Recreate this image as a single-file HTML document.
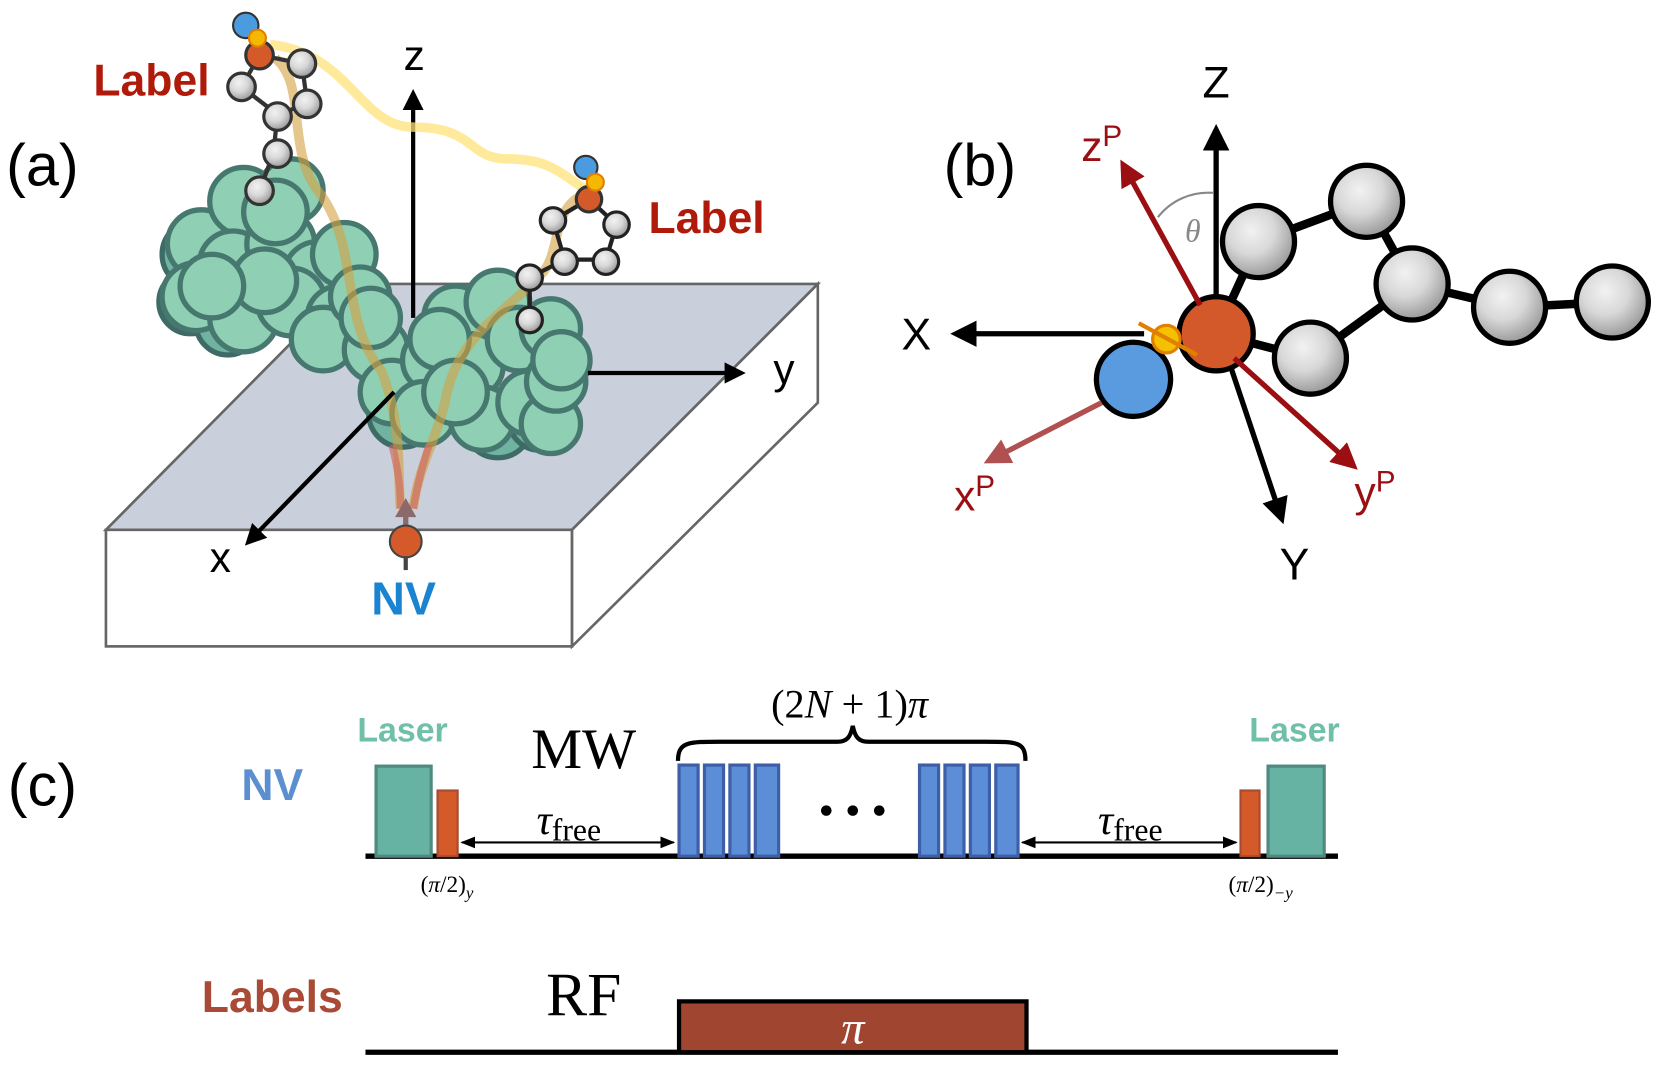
<!DOCTYPE html>
<html><head><meta charset="utf-8"><style>html,body{margin:0;padding:0;background:#fff}svg{display:block}</style></head>
<body>
<svg width="1660" height="1066" viewBox="0 0 1567 1006" preserveAspectRatio="none" xmlns="http://www.w3.org/2000/svg">
<defs>
<marker id="ab" viewBox="0 0 10 10" refX="8" refY="5" markerWidth="5" markerHeight="5" orient="auto-start-reverse"><path d="M0,0L10,5L0,10z" fill="#000"/></marker>
<marker id="as" viewBox="0 0 10 10" refX="9" refY="5" markerWidth="7" markerHeight="7" orient="auto-start-reverse"><path d="M0,1L10,5L0,9z" fill="#000"/></marker>
<marker id="ar" viewBox="0 0 10 10" refX="8" refY="5" markerWidth="5" markerHeight="5" orient="auto"><path d="M0,0L10,5L0,10z" fill="#9b0f12"/></marker>
<marker id="ar2" viewBox="0 0 10 10" refX="8" refY="5" markerWidth="5" markerHeight="5" orient="auto"><path d="M0,0L10,5L0,10z" fill="#b05050"/></marker>
<radialGradient id="gg" cx="0.4" cy="0.35" r="0.65"><stop offset="0" stop-color="#f2f2f2"/><stop offset="0.5" stop-color="#d8d8d8"/><stop offset="1" stop-color="#9a9a9a"/></radialGradient>
</defs>
<g font-family="Liberation Sans, sans-serif">
<polygon points="100,500 330,268 772,268 540,500" fill="#c9d0db" stroke="#666" stroke-width="2.5"/>
<rect x="100" y="500" width="440" height="110" fill="#fff" stroke="#666" stroke-width="2.5"/>
<polygon points="540,500 772,268 772,380 540,610" fill="#fff" stroke="#666" stroke-width="2.5"/>
<line x1="390" y1="300" x2="390" y2="88" stroke="#000" stroke-width="4" marker-end="url(#ab)"/>
<text x="391" y="66" font-size="40" text-anchor="middle">z</text>
<g fill="#6fb3a0" stroke="#3f6b66" stroke-width="5">
<circle cx="185" cy="240" r="32"/><circle cx="180" cy="285" r="30"/><circle cx="215" cy="305" r="30"/><circle cx="380" cy="390" r="32"/><circle cx="470" cy="400" r="32"/><circle cx="510" cy="395" r="30"/>
</g>
<g fill="#8fcfb4" stroke="#46786f" stroke-width="5">
<circle cx="190" cy="230" r="32"/><circle cx="185" cy="280" r="32"/><circle cx="230" cy="190" r="32"/><circle cx="275" cy="180" r="30"/>
<circle cx="220" cy="250" r="32"/><circle cx="265" cy="230" r="32"/><circle cx="300" cy="260" r="32"/><circle cx="230" cy="300" r="32"/>
<circle cx="275" cy="285" r="32"/><circle cx="325" cy="240" r="30"/><circle cx="320" cy="300" r="30"/><circle cx="305" cy="320" r="30"/>
<circle cx="355" cy="330" r="30"/><circle cx="370" cy="370" r="30"/><circle cx="410" cy="340" r="30"/><circle cx="400" cy="390" r="30"/>
<circle cx="430" cy="300" r="30"/><circle cx="470" cy="285" r="30"/><circle cx="445" cy="345" r="30"/><circle cx="490" cy="320" r="30"/>
<circle cx="520" cy="310" r="28"/><circle cx="455" cy="395" r="30"/><circle cx="500" cy="380" r="30"/><circle cx="520" cy="400" r="28"/>
<circle cx="525" cy="360" r="28"/><circle cx="250" cy="265" r="30"/><circle cx="340" cy="280" r="28"/><circle cx="415" cy="320" r="28"/>
<circle cx="260" cy="200" r="30"/><circle cx="200" cy="270" r="30"/><circle cx="350" cy="300" r="28"/><circle cx="430" cy="370" r="30"/><circle cx="530" cy="340" r="27"/>
</g>
<path d="M255,42 C330,50 340,120 390,120 C450,120 440,150 480,150 C520,150 530,165 552,178" fill="none" stroke="#ffe37a" stroke-width="9" opacity="0.75"/>
<path d="M260,55 C290,80 270,140 300,180 C340,230 320,300 360,350 C380,400 375,440 378,480" fill="none" stroke="#d4a040" stroke-width="9" opacity="0.6"/>
<path d="M548,185 C520,200 530,240 510,260 C470,300 430,320 420,380 C410,420 395,440 390,480" fill="none" stroke="#d4a040" stroke-width="9" opacity="0.6"/>
<path d="M370,420 C378,450 378,470 378,480 M405,420 C395,450 392,470 390,480" fill="none" stroke="#d0605a" stroke-width="7" opacity="0.6"/>
<line x1="555" y1="352" x2="700" y2="352" stroke="#000" stroke-width="4" marker-end="url(#ab)"/>
<text x="740" y="362" font-size="40" text-anchor="middle">y</text>
<line x1="372" y1="370" x2="234" y2="512" stroke="#000" stroke-width="4" marker-end="url(#ab)"/>
<text x="208" y="540" font-size="40" text-anchor="middle">x</text>
<g stroke="#333" stroke-width="4" fill="none"><path d="M245,52 L285,60 L290,98 L262,108 L228,82 Z M262,108 L258,145 L245,180"/></g>
<g fill="url(#gg)" stroke="#333" stroke-width="3">
<circle cx="285" cy="60" r="13"/><circle cx="290" cy="98" r="13"/><circle cx="228" cy="82" r="13"/><circle cx="262" cy="110" r="13"/><circle cx="262" cy="145" r="13"/><circle cx="245" cy="180" r="13"/></g>
<circle cx="232" cy="24" r="12" fill="#4a9be0" stroke="#333" stroke-width="2"/>
<circle cx="245" cy="52" r="13" fill="#d45a2a" stroke="#333" stroke-width="3"/>
<circle cx="243" cy="36" r="8" fill="#f5b800" stroke="#e08000" stroke-width="2"/>
<g stroke="#222" stroke-width="4" fill="none"><path d="M556,188 L522,208 L533,245 L572,245 L582,212 Z M533,245 L500,262 L500,300"/></g>
<g fill="url(#gg)" stroke="#222" stroke-width="3">
<circle cx="522" cy="208" r="12"/><circle cx="582" cy="212" r="12"/><circle cx="533" cy="247" r="12"/><circle cx="572" cy="247" r="12"/><circle cx="500" cy="262" r="12"/><circle cx="500" cy="302" r="12"/></g>
<circle cx="553" cy="158" r="11" fill="#4a9be0" stroke="#333" stroke-width="2"/>
<circle cx="556" cy="188" r="12" fill="#d45a2a" stroke="#333" stroke-width="3"/>
<circle cx="562" cy="172" r="8" fill="#f5b800" stroke="#e08000" stroke-width="2"/>
<line x1="383" y1="510" x2="383" y2="482" stroke="#8a6a6a" stroke-width="5"/><path d="M373,488 L383,470 L393,488z" fill="#8a6a6a"/>
<circle cx="383" cy="511" r="15" fill="#d45a2a" stroke="#444" stroke-width="2"/>
<line x1="383" y1="525" x2="383" y2="538" stroke="#444" stroke-width="4"/>
<text x="381" y="580" font-size="44" font-weight="bold" fill="#1a84d0" text-anchor="middle">NV</text>
<text x="143" y="90" font-size="42" font-weight="bold" fill="#b01a0a" text-anchor="middle">Label</text>
<text x="667" y="220" font-size="42" font-weight="bold" fill="#b01a0a" text-anchor="middle">Label</text>
<text x="40" y="175" font-size="56" text-anchor="middle">(a)</text>
<text x="925" y="175" font-size="56" text-anchor="middle">(b)</text>
<text x="40" y="760" font-size="56" text-anchor="middle">(c)</text>
<line x1="1148" y1="295" x2="1148" y2="122" stroke="#000" stroke-width="5" marker-end="url(#ab)"/>
<text x="1148" y="92" font-size="42" text-anchor="middle">Z</text>
<path d="M1093,205 A60,60 0 0 1 1145,182" fill="none" stroke="#888" stroke-width="2"/>
<text x="1126" y="228" font-size="30" font-style="italic" fill="#888" text-anchor="middle" font-family="Liberation Serif, serif">θ</text>
<g stroke="#000" stroke-width="8"><line x1="1148" y1="315" x2="1188" y2="228"/><line x1="1188" y1="228" x2="1290" y2="190"/><line x1="1290" y1="190" x2="1333" y2="268"/><line x1="1333" y1="268" x2="1237" y2="338"/><line x1="1148" y1="315" x2="1237" y2="338"/><line x1="1333" y1="268" x2="1425" y2="290"/><line x1="1425" y1="290" x2="1522" y2="285"/></g>
<g fill="url(#gg)" stroke="#000" stroke-width="5">
<circle cx="1188" cy="228" r="34"/><circle cx="1290" cy="190" r="34"/><circle cx="1333" cy="268" r="34"/><circle cx="1237" cy="338" r="34"/><circle cx="1425" cy="290" r="34"/><circle cx="1522" cy="285" r="34"/></g>
<line x1="1080" y1="315" x2="902" y2="315" stroke="#000" stroke-width="5" marker-end="url(#ab)"/>
<text x="865" y="330" font-size="42" text-anchor="middle">X</text>
<line x1="1158" y1="335" x2="1210" y2="490" stroke="#000" stroke-width="5" marker-end="url(#ab)"/>
<text x="1222" y="547" font-size="42" text-anchor="middle">Y</text>
<circle cx="1070" cy="358" r="35" fill="#5a9be0" stroke="#000" stroke-width="5"/>
<circle cx="1148" cy="315" r="35" fill="#d4592a" stroke="#000" stroke-width="5"/>
<line x1="1133" y1="288" x2="1060" y2="155" stroke="#9b0f12" stroke-width="5" marker-end="url(#ar)"/>
<line x1="1165" y1="338" x2="1278" y2="440" stroke="#9b0f12" stroke-width="5" marker-end="url(#ar)"/>
<line x1="1040" y1="380" x2="933" y2="435" stroke="#b05050" stroke-width="5" marker-end="url(#ar2)"/>
<circle cx="1101" cy="320" r="13" fill="#f5c000" stroke="#e08000" stroke-width="3"/>
<path d="M1075,305 L1130,335" stroke="#e08000" stroke-width="4"/>
<text x="1040" y="152" font-size="40" fill="#9b0f12" text-anchor="middle">z<tspan font-size="28" dy="-14">P</tspan></text>
<text x="1298" y="478" font-size="40" fill="#9b0f12" text-anchor="middle">y<tspan font-size="28" dy="-14">P</tspan></text>
<text x="920" y="482" font-size="40" fill="#9b0f12" text-anchor="middle">x<tspan font-size="28" dy="-14">P</tspan></text>
<line x1="345" y1="808" x2="1263" y2="808" stroke="#000" stroke-width="5"/>
<rect x="355" y="723" width="52" height="85" fill="#67b3a3" stroke="#4f8a80" stroke-width="3"/>
<rect x="413" y="746" width="19" height="62" fill="#d45a2a" stroke="#a84a30" stroke-width="2"/>
<rect x="1171" y="746" width="18" height="62" fill="#d45a2a" stroke="#a84a30" stroke-width="2"/>
<rect x="1197" y="723" width="53" height="85" fill="#67b3a3" stroke="#4f8a80" stroke-width="3"/>
<g fill="#5b8ed6" stroke="#3f5ea8" stroke-width="3">
<rect x="641" y="722" width="18" height="86"/><rect x="665" y="722" width="18" height="86"/><rect x="689" y="722" width="18" height="86"/><rect x="713" y="722" width="22" height="86"/>
<rect x="868" y="722" width="18" height="86"/><rect x="892" y="722" width="18" height="86"/><rect x="916" y="722" width="18" height="86"/><rect x="940" y="722" width="21" height="86"/></g>
<circle cx="780" cy="765" r="5"/><circle cx="805" cy="765" r="5"/><circle cx="830" cy="765" r="5"/>
<line x1="436" y1="795" x2="636" y2="795" stroke="#000" stroke-width="2" marker-start="url(#as)" marker-end="url(#as)"/>
<line x1="965" y1="795" x2="1167" y2="795" stroke="#000" stroke-width="2" marker-start="url(#as)" marker-end="url(#as)"/>
<g font-family="Liberation Serif, serif">
<text x="537" y="787" font-size="40" text-anchor="middle"><tspan font-style="italic">τ</tspan><tspan font-size="30" dy="6">free</tspan></text>
<text x="1067" y="787" font-size="40" text-anchor="middle"><tspan font-style="italic">τ</tspan><tspan font-size="30" dy="6">free</tspan></text>
<text x="551" y="725" font-size="54" text-anchor="middle">MW</text>
<text x="802" y="677" font-size="38" text-anchor="middle">(2<tspan font-style="italic">N</tspan> + 1)<tspan font-style="italic">π</tspan></text>
<text x="422" y="842" font-size="22" text-anchor="middle">(<tspan font-style="italic">π</tspan>/2)<tspan font-size="16" dy="6" font-style="italic">y</tspan></text>
<text x="1190" y="842" font-size="22" text-anchor="middle">(<tspan font-style="italic">π</tspan>/2)<tspan font-size="16" dy="6" font-style="italic">−y</tspan></text>
<text x="551" y="958" font-size="58" text-anchor="middle">RF</text>
</g>
<path d="M640,718 C640,700 650,700 680,700 L790,700 C800,700 803,695 805,685 C807,695 810,700 820,700 L930,700 C960,700 968,700 968,718" fill="none" stroke="#000" stroke-width="4"/>
<text x="380" y="700" font-size="32" font-weight="bold" fill="#6fbfa9" text-anchor="middle">Laser</text>
<text x="1222" y="700" font-size="32" font-weight="bold" fill="#6fbfa9" text-anchor="middle">Laser</text>
<text x="257" y="755" font-size="42" font-weight="bold" fill="#5b8fd0" text-anchor="middle">NV</text>
<text x="257" y="955" font-size="42" font-weight="bold" fill="#a84a35" text-anchor="middle">Labels</text>
<line x1="345" y1="993" x2="1263" y2="993" stroke="#000" stroke-width="5"/>
<rect x="641" y="945" width="328" height="48" fill="#a0452f" stroke="#000" stroke-width="4"/>
<text x="805" y="985" font-size="44" font-style="italic" fill="#fff" text-anchor="middle" font-family="Liberation Serif, serif">π</text>
</g>
</svg>
</body></html>
